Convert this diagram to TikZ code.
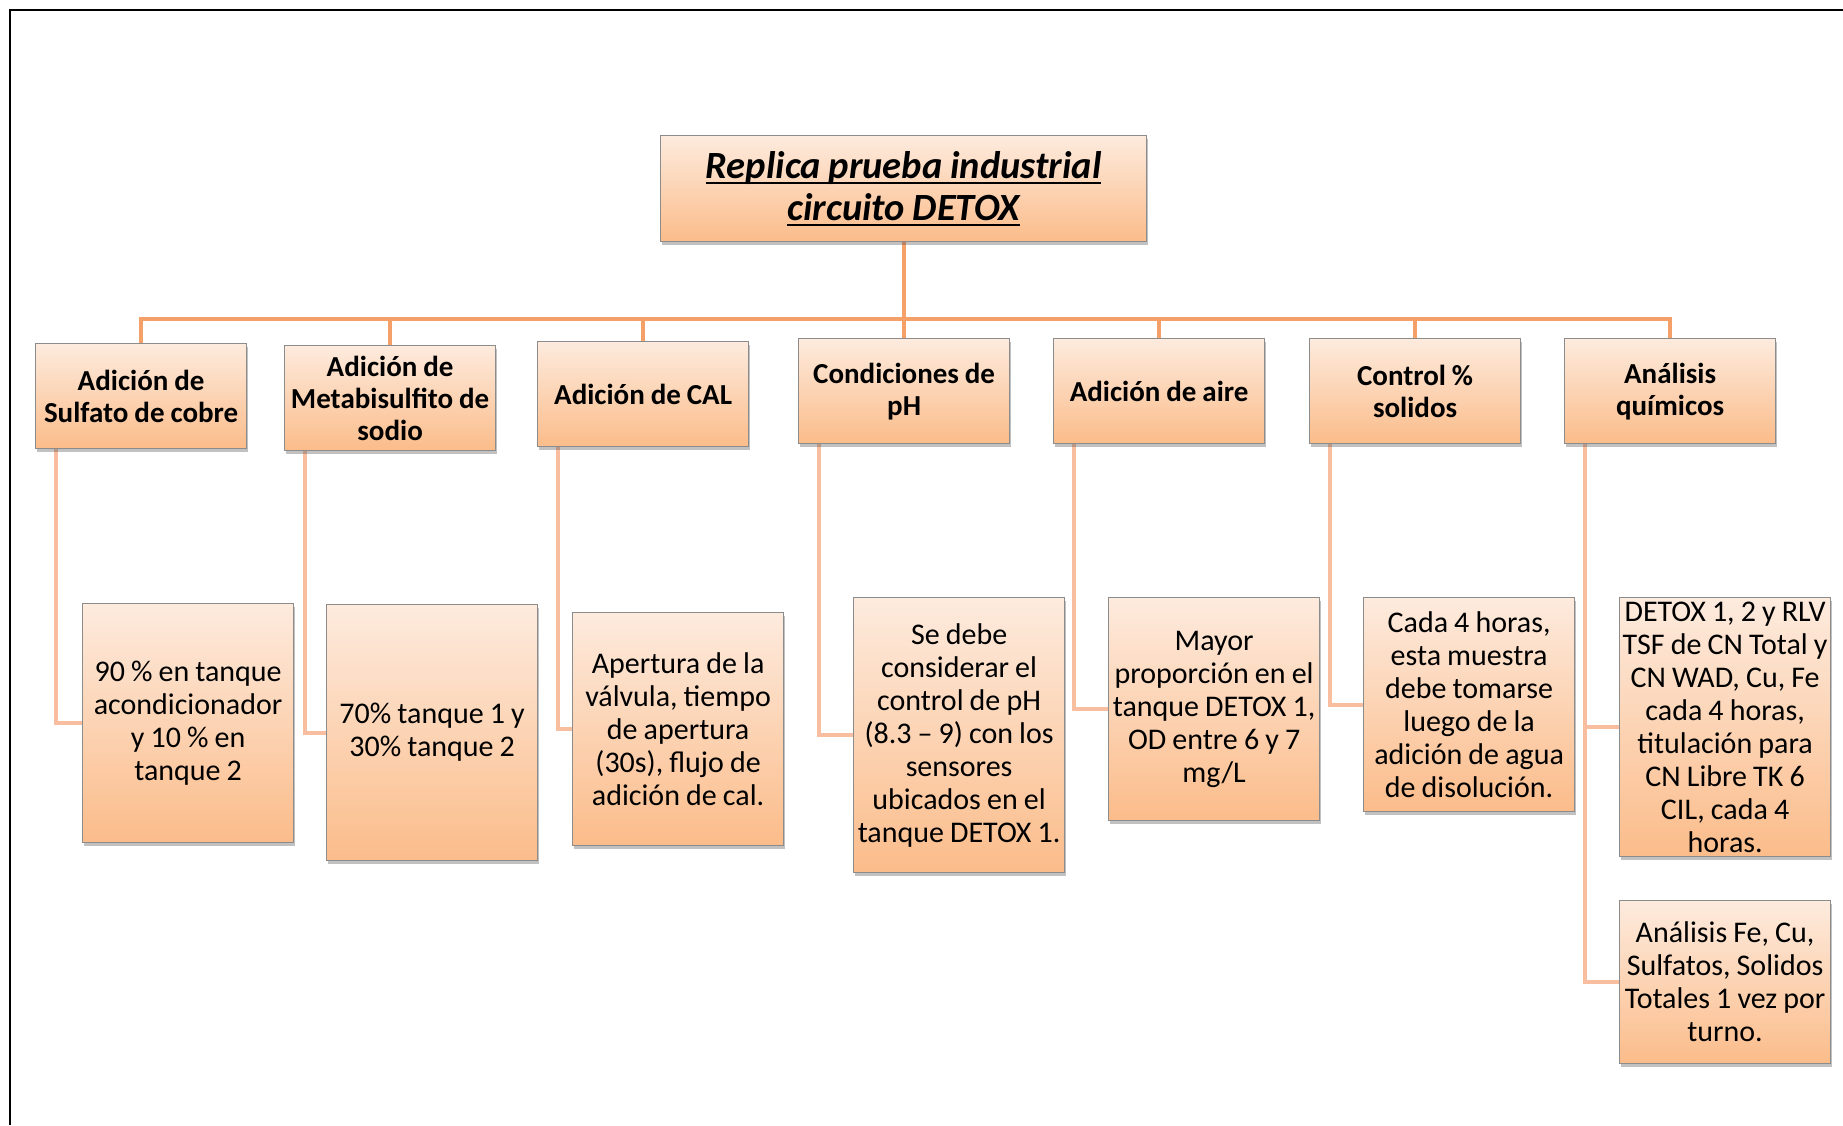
\documentclass[tikz,border=0pt]{standalone}
\usepackage{fontspec}
\setmainfont{Carlito}[WordSpace=0.9]
\usetikzlibrary{shadows,backgrounds,calc}
\definecolor{peachtop}{RGB}{253,235,222}
\definecolor{peachbot}{RGB}{251,188,138}
\definecolor{boxline}{RGB}{140,140,140}
\definecolor{lineone}{RGB}{245,160,104}
\definecolor{linetwo}{RGB}{249,190,160}
\newcommand\thickul[1]{\leavevmode\setbox0=\hbox{#1}\rlap{\rule[-6pt]{\wd0}{2.6pt}}\box0}
\begin{document}
\begin{tikzpicture}[x=1pt,y=-1pt,
  box/.style={draw=boxline, line width=1.2pt, top color=peachtop, bottom color=peachbot,
    drop shadow={shadow xshift=1.5pt, shadow yshift=-3pt, opacity=0.35, fill=black!70},
    align=center, inner sep=1pt, anchor=north west, minimum width=211pt},
  titlebox/.style={box, minimum width=486pt, minimum height=106pt,
    font=\fontsize{38.5}{43}\selectfont\bfseries\itshape},
  headbox/.style={box, minimum height=105pt, font=\fontsize{29}{32}\selectfont\bfseries},
  leafbox/.style={box, font=\fontsize{30}{33}\selectfont},
  lone/.style={draw=lineone, line width=4pt},
  ltwo/.style={draw=linetwo, line width=4pt}]
\useasboundingbox (0,0) rectangle (1843,1125);
\draw[line width=2.8pt] (10,1125) -- (10,10) -- (1843,10);

\node[titlebox] (T) at (660,135) {\thickul{Replica prueba industrial}\\[-1pt]\thickul{circuito DETOX}};

\node[headbox] (B1) at (35,343) {Adición de\\Sulfato de cobre};
\node[headbox] (B2) at (284,345) {Adición de\\Metabisulfito de\\sodio};
\node[headbox] (B3) at (537,341) {Adición de CAL};
\node[headbox] (B4) at (798,338) {Condiciones de\\pH};
\node[headbox] (B5) at (1053,338) {Adición de aire};
\node[headbox] (B6) at (1309,338) {Control \%\\solidos};
\node[headbox] (B7) at (1564,338) {Análisis\\químicos};

\node[leafbox, minimum height=239pt] (C1) at (82,603) {90 \% en tanque\\acondicionador\\y 10 \% en\\tanque 2};
\node[leafbox, minimum height=256pt] (C2) at (326,604) {70\% tanque 1 y\\30\% tanque 2};
\node[leafbox, minimum height=233pt] (C3) at (572,612) {Apertura de la\\válvula, tiempo\\de apertura\\(30s), flujo de\\adición de cal.};
\node[leafbox, minimum height=275pt] (C4) at (853,597) {Se debe\\considerar el\\control de pH\\(8.3 – 9) con los\\sensores\\ubicados en el\\tanque DETOX 1.};
\node[leafbox, minimum height=223pt] (C5) at (1108,597) {Mayor\\proporción en el\\tanque DETOX 1,\\OD entre 6 y 7\\mg/L};
\node[leafbox, minimum height=214pt] (C6) at (1363,597) {Cada 4 horas,\\esta muestra\\debe tomarse\\luego de la\\adición de agua\\de disolución.};
\node[leafbox, minimum height=259pt] (C7a) at (1619,597) {DETOX 1, 2 y RLV\\TSF de CN Total y\\CN WAD, Cu, Fe\\cada 4 horas,\\titulación para\\CN Libre TK 6\\CIL, cada 4\\horas.};
\node[leafbox, minimum height=163pt] (C7b) at (1619,900) {Análisis Fe, Cu,\\Sulfatos, Solidos\\Totales 1 vez por\\turno.};

\coordinate (bar) at (0,319);
\begin{scope}[on background layer]
  \draw[lone] (T.south) -- (T.south |- bar);
  \draw[lone] (B1.north) -- (B1.north |- bar) -- (B7.north |- bar) -- (B7.north);
  \foreach \b in {B2,B3,B4,B5,B6} { \draw[lone] (\b.north) -- (\b.north |- bar); }
  \foreach \p/\c in {B1/C1,B2/C2,B3/C3,B4/C4,B5/C5,B6/C6,B7/C7a,B7/C7b} {
    \draw[ltwo] ([xshift=21pt]\p.south west) |- (\c.west);
  }
\end{scope}
\end{tikzpicture}
\end{document}
